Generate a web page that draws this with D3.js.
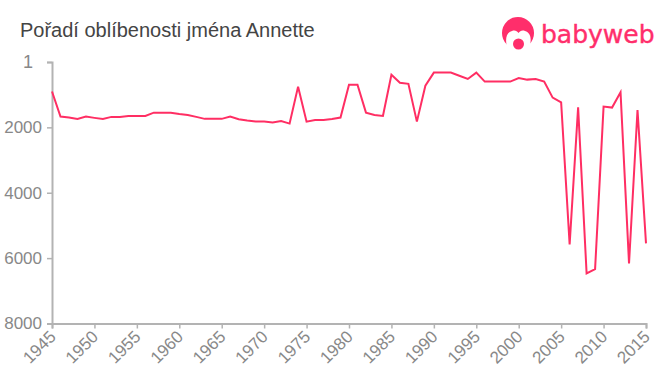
<!DOCTYPE html>
<html>
<head>
<meta charset="utf-8">
<script src="https://cdnjs.cloudflare.com/ajax/libs/d3/7.8.5/d3.min.js"></script>
<style>
	html,body{margin:0;padding:0;background:#fff;}
	svg{display:block;}
	text{font-family:"Liberation Sans",Arial,sans-serif;}
</style>
</head>
<body>
<div id="chart"></div>
<script>
const title = 'Pořadí oblíbenosti jména Annette';
const years = d3.range(1945, 2016);
const ranks = [
	905,1670,1700,1745,1670,1710,1745,1680,1680,1650,
	1650,1650,1550,1550,1550,1590,1620,1680,1740,1740,
	1740,1670,1750,1790,1820,1820,1850,1805,1885,755,
	1825,1775,1775,1745,1700,695,695,1550,1620,1650,
	390,635,670,1825,725,325,325,325,420,520,
	325,600,600,600,600,490,540,520,600,1090,
	1235,5580,1390,6465,6335,1365,1395,930,6160,1470,
	5550
];
const rankTicks = [1,2000,4000,6000,8000];
const yearTicks = d3.range(1945, 2016, 5);

const width = 660;
const height = 375;
const margin = {t:62,r:14,b:51.5,l:52};
const w = width - margin.l - margin.r;
const h = height - margin.t - margin.b;

const scaleX = d3.scaleLinear().domain([1945,2015]).range([0,w]);
const scaleY = d3.scaleLinear().domain([1,8000]).range([0,h]);

const svg = d3.select('#chart')
	.append('svg')
	.attr('width',width)
	.attr('height',height);

svg.append('text')
	.attr('x',20)
	.attr('y',37)
	.attr('font-size',20)
	.attr('fill','#444')
	.text(title);

const plot = svg.append('g')
	.attr('transform',`translate(${margin.l},${margin.t})`);

//Axes
const axisY = d3.axisLeft(scaleY)
	.tickValues(rankTicks)
	.tickFormat(d3.format('d'))
	.tickSizeOuter(0)
	.tickSize(5)
	.tickPadding(5);
const axisX = d3.axisBottom(scaleX)
	.tickValues(yearTicks)
	.tickFormat(d3.format('d'))
	.tickSizeOuter(0)
	.tickSize(5)
	.tickPadding(4);

const axisYNode = plot.append('g').call(axisY);
const axisXNode = plot.append('g')
	.attr('transform',`translate(0,${h})`)
	.call(axisX);

plot.selectAll('.domain')
	.attr('stroke','#b3b3b3')
	.attr('stroke-width',2);
plot.selectAll('.tick line')
	.attr('stroke','#b3b3b3')
	.attr('stroke-width',1.5);
plot.selectAll('.tick text')
	.attr('fill','#888')
	.attr('font-size',17)
	.style('font-family','"Liberation Sans",Arial,sans-serif');

//the "1" sits further left than the other rank labels
axisYNode.selectAll('.tick text')
	.filter(d => d === 1)
	.attr('x',-19)
	.attr('font-size',18);

axisXNode.selectAll('.tick text')
	.attr('text-anchor','end')
	.attr('dx',0)
	.attr('dy',0)
	.attr('transform','translate(-2,8) rotate(-45)');

//Line
const lineGenerator = d3.line()
	.x((d,i) => scaleX(years[i]))
	.y(d => scaleY(d));

plot.append('path')
	.datum(ranks)
	.attr('fill','none')
	.attr('stroke','#ff2e63')
	.attr('stroke-width',2)
	.attr('stroke-linejoin','miter')
	.attr('d',lineGenerator);

//Logo
const logo = svg.append('g').attr('fill','#ff2e6b');
logo.append('circle').attr('cx',518).attr('cy',33).attr('r',16);
logo.append('path')
	.attr('fill','#fff')
	.attr('d','M508 50 C505 42 505 33 512 31 C515 30 517 31 518.500 33 C520 31 522 30 525 31 C532 33 532 42 528 50 Z');
logo.append('circle').attr('cx',518.5).attr('cy',44).attr('r',5.5);
logo.append('text')
	.attr('x',541)
	.attr('y',43)
	.attr('font-size',25)
	.attr('stroke','#ff2e6b')
	.attr('stroke-width',0.4)
	.style('font-family','"DejaVu Sans",sans-serif')
	.text('babyweb');
</script>
</body>
</html>
